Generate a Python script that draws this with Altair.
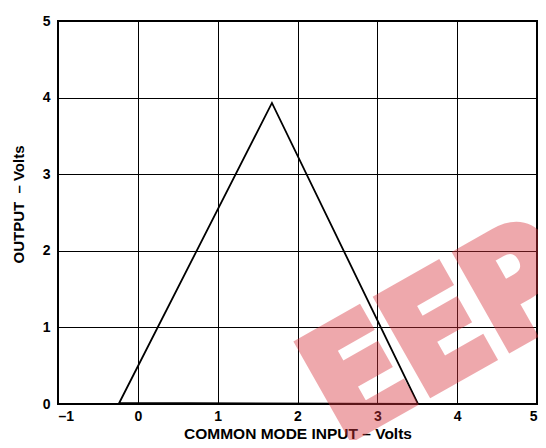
import altair as alt
import pandas as pd

# Curve (closed triangle trace)
curve_x = [-0.24, 1.68, 3.51, -0.24]
curve_y = [0.0, 3.93, 0.0, 0.015]
x_ticks = [-1, 0, 1, 2, 3, 4, 5]
y_ticks = [0, 1, 2, 3, 4, 5]
watermark_text = ["EEP"]

df = pd.DataFrame({"x": curve_x, "y": curve_y, "o": list(range(len(curve_x)))})
wm = pd.DataFrame({"t": watermark_text})

font = "Liberation Sans"

line = alt.Chart(df).mark_line(color="black", strokeWidth=1.8).encode(
    x=alt.X(
        "x:Q",
        scale=alt.Scale(domain=[-1, 5], nice=False, zero=False),
        axis=alt.Axis(
            values=x_ticks,
            title="COMMON MODE INPUT – Volts",
            labelExpr="datum.value < 0 ? '–' + abs(datum.value) : datum.label",
            labelPadding=5,
            labelFlush=True,
            titleY=34,
            titleBaseline="alphabetic",
            titleFontSize=15.5,
        ),
    ),
    y=alt.Y(
        "y:Q",
        scale=alt.Scale(domain=[0, 5], nice=False),
        axis=alt.Axis(
            values=y_ticks,
            title="OUTPUT\u00a0 – Volts",
            labelPadding=8,
            titleAngle=270,
            titleX=-35,
            titleY=183,
            titleAlign="center",
            titleBaseline="alphabetic",
            titleFontSize=15,
        ),
    ),
    order="o:O",
)

mark = alt.Chart(wm).mark_text(
    angle=330.5,
    fontSize=148,
    font="DejaVu Sans Condensed, DejaVu Sans",
    fontWeight="bold",
    align="left",
    baseline="alphabetic",
    color="#d8323c",
    stroke="#d8323c",
    strokeWidth=9,
    strokeJoin="miter",
    opacity=0.42,
).encode(text="t:N", x=alt.value(284), y=alt.value(422))

chart = (
    alt.layer(line, mark)
    .properties(
        width=479,
        height=383,
        autosize=alt.AutoSizeParams(type="none"),
        padding={"left": 50, "top": 13, "right": 1, "bottom": 36},
    )
    .configure_view(stroke="black", strokeWidth=2)
    .configure_axis(
        domain=False,
        ticks=False,
        tickSize=0,
        grid=True,
        gridColor="black",
        gridOpacity=1,
        gridWidth=1,
        labelFont=font,
        labelFontWeight="bold",
        labelFontSize=14,
        labelColor="black",
        titleFont=font,
        titleFontWeight="bold",
        titleColor="black",
    )
)

chart.save("out.html", embed_options={"renderer": "svg", "actions": False})
